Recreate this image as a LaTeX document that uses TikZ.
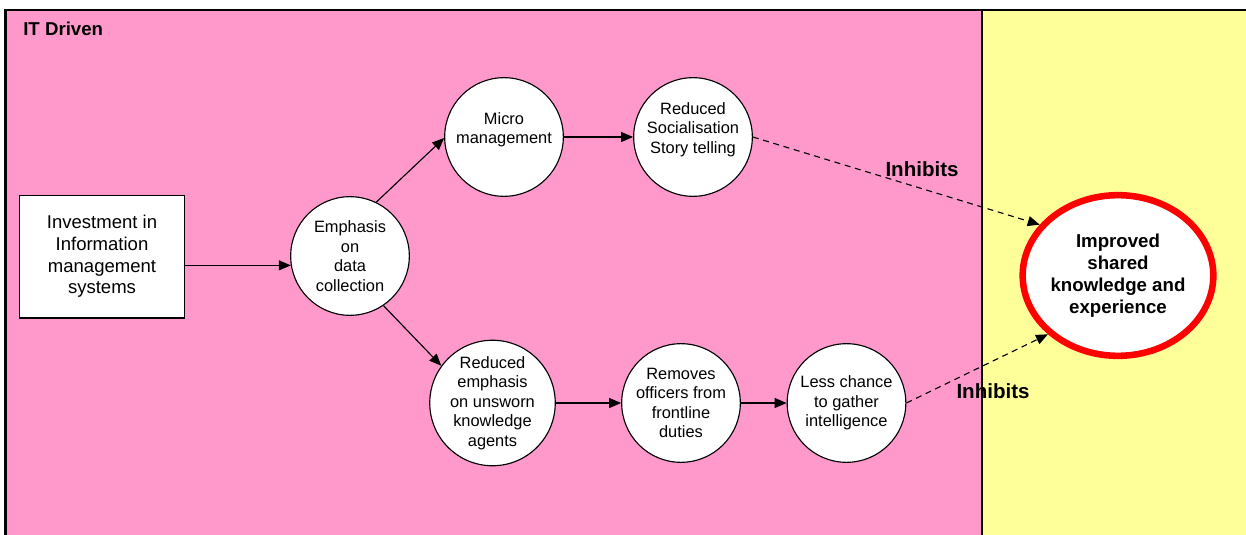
\documentclass[tikz,border=0pt]{standalone}
\usepackage{fontspec}
\setmainfont{Liberation Sans}
\usetikzlibrary{arrows.meta,shapes.geometric}
\definecolor{zonepink}{HTML}{FF99CC}
\definecolor{zoneyellow}{HTML}{FFFF99}
\definecolor{goalred}{HTML}{FF0000}
\begin{document}
\begin{tikzpicture}[x=0.75pt,y=-0.75pt,
  circ/.style={circle,draw=black,line width=0.85pt,fill=white,minimum size=89pt,inner sep=0pt,
    align=center,font=\fontsize{12.3}{14.6}\selectfont},
  ctext/.style={inner sep=0pt,align=center,font=\fontsize{12.3}{14.6}\selectfont},
  boxst/.style={rectangle,draw=black,line width=1pt,fill=white,minimum width=124pt,minimum height=92pt,
    inner sep=0pt,align=center,font=\fontsize{13.9}{16.3}\selectfont},
  goal/.style={ellipse,draw=goalred,line width=4.9pt,fill=white,minimum width=131.5pt,minimum height=120.5pt,
    inner sep=0pt,align=center,font=\bfseries\fontsize{14}{16.5}\selectfont},
  flow/.style={line width=0.85pt,-{Triangle[length=9pt,width=7.5pt]}},
  inhib/.style={line width=0.85pt,dash pattern=on 4.5pt off 3.5pt,-{Triangle[length=9pt,width=7.5pt]}},
  tag/.style={inner sep=0pt,font=\bfseries\fontsize{15.4}{18}\selectfont}
]
\useasboundingbox (0,0) rectangle (1246,535);

% zones
\fill[zonepink] (5.5,10) rectangle (982,535);
\fill[zoneyellow] (982,10) rectangle (1246,535);
\draw[line width=0.9pt] (982,10) -- (982,535);
\draw[line width=2pt] (1246,10) -- (5.5,10) -- (5.5,535);
\node[inner sep=0pt,anchor=west,font=\bfseries\fontsize{14}{16}\selectfont] (zone) at (23,29) {IT Driven};

% nodes
\node[boxst] (box) at (102,256.5) {Investment in\\Information\\management\\systems};
\node[circ] (emph) at (350,256) {Emphasis\\on\\data\\collection};
\node[circ] (micro) at (504,137) {};
\node[ctext] (microtxt) at ([yshift=5.5pt]micro.center) {Micro\\management};
\node[circ] (soc) at (693,137) {};
\node[ctext] (soctxt) at ([yshift=5.5pt]soc.center) {Reduced\\Socialisation\\Story telling};
\node[circ] (redemph) at (492.5,403) {Reduced\\emphasis\\on unsworn\\knowledge\\agents};
\node[circ] (removes) at (681,403) {Removes\\officers from\\frontline\\duties};
\node[circ] (less) at (846.5,403) {Less chance\\to gather\\intelligence};
\node[goal] (imp) at (1118,275.5) {Improved\\shared\\knowledge and\\experience};

% connectors
\draw[flow] (box.east |- emph.189) -- (emph.189);
\draw[flow] (emph.64) -- (micro.181);
\draw[flow] (emph.-56) -- (redemph.144);
\draw[flow] (micro.east) -- (soc.west);
\draw[flow] (redemph.east) -- (removes.west);
\draw[flow] (removes.east) -- (less.west);
\draw[inhib] (soc.east) -- (imp.147);
\draw[inhib] (less.east) -- (imp.220);

% labels
\node[tag] (tagup) at (922,169) {Inhibits};
\node[tag] (taglow) at (993,391) {Inhibits};
\end{tikzpicture}
\end{document}
